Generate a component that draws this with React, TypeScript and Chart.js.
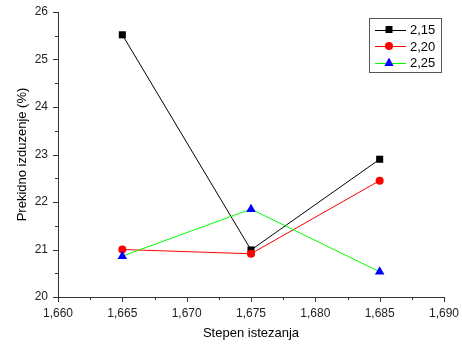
import React, { useEffect, useRef } from "react";
import { Chart, registerables } from "chart.js";

Chart.register(...registerables);

const xValues = [1.665, 1.675, 1.685];
const xTicks = [1.66, 1.665, 1.67, 1.675, 1.68, 1.685, 1.69];
const yTicks = [20, 21, 22, 23, 24, 25, 26];
const seriesNames = ["2,15", "2,20", "2,25"];
const s215 = [25.52, 20.99, 22.9];
const s220 = [21.0, 20.91, 22.45];
const s225 = [20.86, 21.85, 20.53];

const FONT = "'Liberation Sans', Arial, sans-serif";

function drawMarker(ctx: CanvasRenderingContext2D, style: string, x: number, y: number, color: string) {
  ctx.save();
  ctx.fillStyle = color;
  ctx.beginPath();
  if (style === "rect") {
    ctx.rect(x - 3.5, y - 3.5, 7, 7);
  } else if (style === "circle") {
    ctx.arc(x, y, 4, 0, Math.PI * 2);
  } else {
    ctx.moveTo(x, y - 5);
    ctx.lineTo(x + 4.6, y + 3.5);
    ctx.lineTo(x - 4.6, y + 3.5);
    ctx.closePath();
  }
  ctx.fill();
  ctx.restore();
}

const axisTicksPlugin = {
  id: "axisTicks",
  afterDraw(chart: any) {
    const ctx = chart.ctx as CanvasRenderingContext2D;
    const xs = chart.scales.x;
    const ys = chart.scales.y;
    const area = chart.chartArea;
    ctx.save();
    ctx.strokeStyle = "#333";
    ctx.lineWidth = 1;
    ctx.beginPath();
    for (let i = 0; i < xTicks.length; i++) {
      const px = Math.round(xs.getPixelForValue(xTicks[i])) + 0.5;
      ctx.moveTo(px, area.bottom);
      ctx.lineTo(px, area.bottom + 5);
      if (i < xTicks.length - 1) {
        const pm = Math.round(xs.getPixelForValue((xTicks[i] + xTicks[i + 1]) / 2)) + 0.5;
        ctx.moveTo(pm, area.bottom);
        ctx.lineTo(pm, area.bottom + 3);
      }
    }
    for (let i = 0; i < yTicks.length; i++) {
      const py = Math.round(ys.getPixelForValue(yTicks[i])) + 0.5;
      ctx.moveTo(area.left, py);
      ctx.lineTo(area.left - 5, py);
      if (i < yTicks.length - 1) {
        const pm = Math.round(ys.getPixelForValue((yTicks[i] + yTicks[i + 1]) / 2)) + 0.5;
        ctx.moveTo(area.left, pm);
        ctx.lineTo(area.left - 3, pm);
      }
    }
    ctx.stroke();

    // legend
    const bx = 369.5, by = 18.5, bw = 72, bh = 54;
    ctx.strokeStyle = "#555";
    ctx.lineWidth = 1;
    ctx.strokeRect(bx, by, bw, bh);
    ctx.font = "13px " + FONT;
    ctx.textBaseline = "middle";
    ctx.textAlign = "left";
    chart.data.datasets.forEach((ds: any, i: number) => {
      const y = 29.5 + i * 16.5;
      ctx.strokeStyle = ds.borderColor;
      ctx.beginPath();
      ctx.moveTo(375, Math.round(y) + 0.5);
      ctx.lineTo(406, Math.round(y) + 0.5);
      ctx.stroke();
      drawMarker(ctx, ds.pointStyle, 389, y, ds.pointBackgroundColor);
      ctx.fillStyle = "#000";
      ctx.fillText(ds.label, 410, y + 1);
    });
    ctx.restore();
  },
};

export default function App() {
  const ref = useRef<HTMLCanvasElement>(null);
  useEffect(() => {
    if (!ref.current) return;
    const mk = (label: string, vals: number[], line: string, pt: string, style: string, order: number) => ({
      label,
      data: xValues.map((x, i) => ({ x, y: vals[i] })),
      borderColor: line,
      borderWidth: 1,
      pointBackgroundColor: pt,
      pointBorderColor: pt,
      pointBorderWidth: 0,
      pointStyle: style,
      pointRadius: style === "rect" ? 5 : style === "circle" ? 4 : 5.5,
      showLine: true,
      tension: 0,
      order,
    });
    const zeroPad = (s: any) => {
      s.paddingLeft = 0;
      s.paddingRight = 0;
      s.paddingTop = 0;
      s.paddingBottom = 0;
    };
    const chart = new Chart(ref.current, {
      type: "scatter",
      data: {
        datasets: [
          mk(seriesNames[0], s215, "#000000", "#000000", "rect", 3),
          mk(seriesNames[1], s220, "#ff0000", "#ff0000", "circle", 2),
          mk(seriesNames[2], s225, "#00ff00", "#0000ff", "triangle", 1),
        ] as any,
      },
      options: {
        animation: false,
        responsive: false,
        layout: { padding: { top: 12, right: 18, left: 0, bottom: 0 } },
        plugins: { legend: { display: false }, tooltip: { enabled: false } },
        scales: {
          x: {
            type: "linear",
            min: 1.66,
            max: 1.69,
            afterBuildTicks: (s: any) => {
              s.ticks = xTicks.map((v) => ({ value: v }));
            },
            afterFit: (s: any) => {
              s.height = 50;
              zeroPad(s);
            },
            grid: { display: false, drawTicks: false },
            border: { display: true, color: "#333", width: 1 },
            ticks: {
              padding: 9,
              color: "#222",
              font: { family: FONT, size: 12 },
              maxRotation: 0,
              autoSkip: false,
              callback: (v: any) => Number(v).toFixed(3).replace(".", ","),
            },
            title: {
              display: true,
              text: "Stepen istezanja",
              color: "#000",
              font: { family: FONT, size: 13 },
              padding: { top: 4, bottom: 6 },
            },
          },
          y: {
            type: "linear",
            min: 20,
            max: 26,
            afterBuildTicks: (s: any) => {
              s.ticks = yTicks.map((v) => ({ value: v }));
            },
            afterFit: (s: any) => {
              s.width = 58;
              zeroPad(s);
            },
            grid: { display: false, drawTicks: false },
            border: { display: true, color: "#333", width: 1 },
            ticks: {
              padding: 10,
              color: "#222",
              font: { family: FONT, size: 12 },
              callback: (v: any) => String(v),
            },
            title: {
              display: true,
              text: "Prekidno izduzenje (%)",
              color: "#000",
              font: { family: FONT, size: 13 },
              padding: { top: 15, bottom: 0 },
            },
          },
        },
      } as any,
      plugins: [axisTicksPlugin],
    });
    return () => chart.destroy();
  }, []);
  return (
    <div style={{ position: "absolute", left: 0, top: 0, width: 462, height: 347, background: "#fff" }}>
      <canvas ref={ref} width={462} height={347} style={{ display: "block" }} />
    </div>
  );
}
